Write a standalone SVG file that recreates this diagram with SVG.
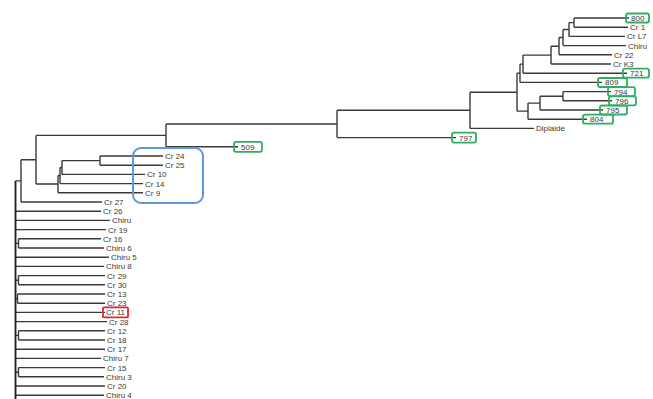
<svg xmlns="http://www.w3.org/2000/svg" width="653" height="399" viewBox="0 0 653 399">
<style>
.e{fill:none;stroke:#3a3a3a;stroke-width:1.4}
.sp{fill:none;stroke:#222;stroke-width:1.9}
text{font-family:"Liberation Sans",Arial,sans-serif;font-size:8px;fill:#3a3a3a}
.g{fill:none;stroke:#2fae62;stroke-width:1.8}
.r{fill:none;stroke:#e02a2a;stroke-width:1.8}
.b{fill:none;stroke:#5a9bd8;stroke-width:2}
</style>
<rect width="653" height="399" fill="#fff"/>
<g id="connectors">
<path class="e" d="M574 18V27.2M574 18H629M574 27.2H628
M569 22.6V36.4M569 22.6H574M569 36.4H625
M563 29.5V45.6M563 29.5H569M563 45.6H626
M559 37.55V54.8M559 37.55H563M559 54.8H612
M551 46.2V64M551 46.2H559M551 64H611
M523 55.1V73.2M523 55.1H551M523 73.2H627
M520 64.15V82.4M520 64.15H523M520 82.4H602
M563 91.6V100.8M563 91.6H611M563 100.8H612
M540 96.2V110M540 96.2H563M540 110H603
M528 103.1V119.2M528 103.1H540M528 119.2H587
M517 73.3V111.15M517 73.3H520M517 111.15H528
M470 92.2V128.4M470 92.2H517M470 128.4H534
M337 110.3V137.6M337 110.3H470M337 137.6H456
M166 123.95V146.8M166 123.95H337M166 146.8H238
M36 135.4V184M36 135.4H166M36 184H58
M58 175.5V192.8M58 175.5H60M58 192.8H143
M60 167.5V183.6M60 167.5H62M60 183.6H143
M62 160.6V174.4M62 160.6H100M62 174.4H145
M100 156V165.2M100 156H163M100 165.2H163
M21 159.7V202M21 159.7H36M21 202H102
M15.5 180.9H21
M15.5 211.2H101M15.5 220.4H110M15.5 229.6H106
M18.5 238.8V248M15.5 243.4H18.5M18.5 238.8H101M18.5 248H104
M15.5 257.2H109M15.5 266.4H104
M18.5 275.6V284.8M15.5 280.2H18.5M18.5 275.6H105M18.5 284.8H105
M17.5 294V303.2M15.5 298.6H17.5M17.5 294H105M17.5 303.2H105
M15.5 312.4H105M15.5 321.6H107
M18.5 330.8V340M15.5 335.4H18.5M18.5 330.8H105M18.5 340H105
M15.5 349.2H105M15.5 358.4H101
M18.5 367.6V376.8M15.5 372.2H18.5M18.5 367.6H105M18.5 376.8H104
M15.5 386H105M15.5 395.2H104"/>
<path class="sp" d="M15.5 180.9V399"/>
</g>
<g id="n800"><rect class="g" x="626" y="13.5" width="23" height="9" rx="2"/><text x="631" y="21">800</text></g>
<g id="nCr1"><text x="630" y="30.2">Cr 1</text></g>
<g id="nCrL7"><text x="627" y="39.4">Cr L7</text></g>
<g id="nChiruA"><text x="628" y="48.6">Chiru</text></g>
<g id="nCr22"><text x="614" y="57.8">Cr 22</text></g>
<g id="nCrK3"><text x="613" y="67">Cr K3</text></g>
<g id="n721"><rect class="g" x="623" y="68.7" width="26" height="9" rx="2"/><text x="630" y="76.2">721</text></g>
<g id="n809"><rect class="g" x="598" y="78" width="29" height="9" rx="2"/><text x="605" y="85.4">809</text></g>
<g id="n794"><rect class="g" x="608" y="87.1" width="27" height="9" rx="2"/><text x="614" y="94.6">794</text></g>
<g id="n796"><rect class="g" x="609" y="96.3" width="27" height="9" rx="2"/><text x="615" y="103.8">796</text></g>
<g id="n795"><rect class="g" x="600" y="105.5" width="27" height="9" rx="2"/><text x="606" y="113">795</text></g>
<g id="n804"><rect class="g" x="583" y="114.7" width="30" height="9" rx="2"/><text x="590" y="122.2">804</text></g>
<g id="nDiplaide"><text x="536" y="131.4">Diplaide</text></g>
<g id="n797"><rect class="g" x="452" y="132.6" width="24" height="10" rx="2"/><text x="459" y="140.6">797</text></g>
<g id="n509"><rect class="g" x="234" y="141.8" width="28" height="10" rx="2"/><text x="241" y="149.8">509</text></g>
<g id="highlight"><rect class="b" x="133" y="148" width="70" height="55" rx="8"/></g>
<g id="nCr24"><text x="165" y="159">Cr 24</text></g>
<g id="nCr25"><text x="165" y="168.2">Cr 25</text></g>
<g id="nCr10"><text x="147" y="177.4">Cr 10</text></g>
<g id="nCr14"><text x="145" y="186.6">Cr 14</text></g>
<g id="nCr9"><text x="145" y="195.8">Cr 9</text></g>
<g id="nCr27"><text x="104" y="205">Cr 27</text></g>
<g id="nCr26"><text x="103" y="214.2">Cr 26</text></g>
<g id="nChiruB"><text x="112" y="223.4">Chiru</text></g>
<g id="nCr19"><text x="108" y="232.6">Cr 19</text></g>
<g id="nCr16"><text x="103" y="241.8">Cr 16</text></g>
<g id="nChiru6"><text x="106" y="251">Chiru 6</text></g>
<g id="nChiru5"><text x="111" y="260.2">Chiru 5</text></g>
<g id="nChiru8"><text x="106" y="269.4">Chiru 8</text></g>
<g id="nCr29"><text x="107" y="278.6">Cr 29</text></g>
<g id="nCr30"><text x="107" y="287.8">Cr 30</text></g>
<g id="nCr13"><text x="107" y="297">Cr 13</text></g>
<g id="nCr23"><text x="107" y="306.2">Cr 23</text></g>
<g id="nCr11"><rect class="r" x="103" y="307.4" width="25" height="10" rx="1"/><text x="106" y="315.4">Cr 11</text></g>
<g id="nCr28"><text x="109" y="324.6">Cr 28</text></g>
<g id="nCr12"><text x="107" y="333.8">Cr 12</text></g>
<g id="nCr18"><text x="107" y="343">Cr 18</text></g>
<g id="nCr17"><text x="107" y="352.2">Cr 17</text></g>
<g id="nChiru7"><text x="103" y="361.4">Chiru 7</text></g>
<g id="nCr15"><text x="107" y="370.6">Cr 15</text></g>
<g id="nChiru3"><text x="106" y="379.8">Chiru 3</text></g>
<g id="nCr20"><text x="107" y="389">Cr 20</text></g>
<g id="nChiru4"><text x="106" y="398.2">Chiru 4</text></g>
</svg>
